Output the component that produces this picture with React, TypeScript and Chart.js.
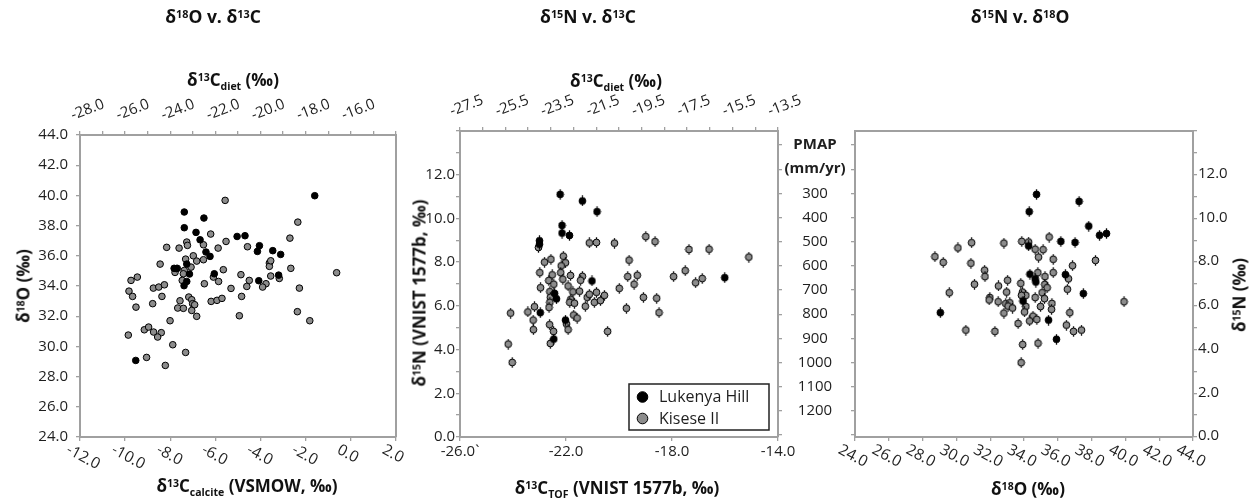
import React, { useEffect, useRef } from "react";
import { Chart, registerables } from "chart.js";
Chart.register(...registerables);

const W = 1252;
const H = 502;
const AXIS = "#a0a0a0";
const TXT = "#1e1e1e";
const GRAY = "#8c8c8c";
const BLACK = "#000000";
const FONT = "'Open Sans', 'Noto Sans', sans-serif";
const TICK_FONT = `15px ${FONT}`;
const BOLD_FONT = `bold 15px ${FONT}`;

// ---------- data: panel 1 (d13C calcite vs d18O) ----------
const p1Lukenya: [number, number][] = [
  [-7.38, 38.9], [-7.38, 37.86], [-6.51, 38.5], [-6.86, 37.55], [-6.68, 37.06], [-6.42, 36.25],
  [-6.24, 35.96], [-7.83, 35.17], [-7.72, 35.15], [-7.27, 35.45], [-7.15, 34.79], [-7.27, 34.3],
  [-7.39, 34.02], [-6.05, 34.81], [-5.04, 37.28], [-4.69, 37.33], [-4.05, 36.67], [-4.14, 36.29],
  [-3.46, 36.34], [-3.11, 36.09], [-4.08, 34.35], [-3.2, 34.72], [-1.6, 39.98], [-9.53, 29.07],
];
const p1Kisese: [number, number][] = [
  [-5.57, 39.67], [-2.35, 38.23], [-2.7, 37.17], [-6.21, 37.44], [-7.27, 36.91], [-7.24, 36.69],
  [-6.53, 36.73], [-5.53, 36.95], [-8.16, 36.56], [-7.61, 36.51], [-5.88, 36.51], [-4.58, 36.6],
  [-8.45, 35.45], [-6.98, 36.0], [-6.53, 35.74], [-7.32, 35.78], [-6.83, 35.65], [-7.08, 35.25],
  [-7.69, 35.17], [-7.79, 34.9], [-7.38, 35.03], [-7.42, 34.81], [-7.47, 34.37], [-6.09, 34.59],
  [-5.65, 35.08], [-3.61, 35.52], [-3.61, 35.3], [-3.55, 35.67], [-2.66, 35.17], [-0.63, 34.88],
  [-3.55, 34.66], [-3.17, 34.5], [-4.87, 34.75], [-4.5, 34.37], [-5.86, 34.3], [-6.49, 34.15],
  [-4.61, 33.97], [-3.76, 34.15], [-3.91, 33.93], [-5.31, 33.84], [-2.28, 33.86], [-4.84, 33.31],
  [-9.74, 34.37], [-9.46, 34.59], [-9.83, 33.66], [-9.67, 33.31], [-9.52, 32.6], [-8.75, 33.86],
  [-8.51, 33.93], [-8.26, 34.08], [-8.37, 33.31], [-8.78, 32.83], [-7.57, 33.02], [-7.18, 33.27],
  [-7.05, 33.09], [-7.01, 32.83], [-6.92, 32.76], [-7.67, 32.54], [-7.42, 32.52], [-7.05, 32.38],
  [-6.83, 31.99], [-6.19, 32.98], [-5.93, 33.05], [-5.71, 33.18], [-4.94, 32.03], [-2.37, 32.3],
  [-1.82, 31.7], [-8.01, 31.7], [-9.86, 30.75], [-9.15, 31.1], [-8.96, 31.28], [-8.74, 30.95],
  [-8.4, 30.91], [-8.56, 30.62], [-7.89, 30.11], [-7.32, 29.6], [-9.05, 29.27], [-8.22, 28.74],
];

// ---------- data: panel 2 (d13C TOF vs d15N) ----------
const p2Lukenya: [number, number][] = [
  [-22.22, 11.1], [-21.38, 10.8], [-20.83, 10.31], [-22.15, 9.68], [-22.15, 9.33], [-21.87, 9.22],
  [-23.0, 8.98], [-23.0, 8.82], [-21.02, 7.14], [-22.43, 6.57], [-22.36, 6.32], [-22.97, 5.69],
  [-22.02, 5.35], [-22.46, 4.48], [-16.01, 7.29],
];
const p2Kisese: [number, number][] = [
  [-23.04, 8.67], [-21.12, 8.88], [-20.85, 8.9], [-20.17, 8.87], [-18.99, 9.17], [-18.64, 8.94],
  [-17.36, 8.58], [-16.6, 8.59], [-15.1, 8.23], [-22.81, 8.0], [-22.57, 8.13], [-22.1, 8.27],
  [-22.02, 7.97], [-22.18, 7.83], [-22.99, 7.52], [-22.2, 7.52], [-22.52, 7.42], [-21.83, 7.39],
  [-21.38, 7.35], [-21.45, 7.17], [-22.12, 7.22], [-22.65, 7.16], [-22.46, 6.99], [-22.96, 6.83],
  [-21.92, 6.91], [-22.61, 6.65], [-21.74, 6.64], [-21.49, 6.67], [-22.59, 6.39], [-22.61, 6.16],
  [-22.64, 5.93], [-21.82, 6.3], [-21.86, 6.16], [-21.68, 6.12], [-21.2, 6.39], [-21.12, 6.53],
  [-20.93, 6.16], [-20.85, 6.62], [-20.7, 6.24], [-20.55, 6.48], [-21.27, 5.98], [-19.99, 6.8],
  [-19.72, 5.89], [-19.67, 7.34], [-19.62, 8.09], [-19.43, 6.99], [-19.31, 7.4], [-19.08, 6.39],
  [-18.58, 6.35], [-18.49, 5.69], [-17.94, 7.34], [-17.5, 7.61], [-17.11, 7.06], [-16.86, 7.25],
  [-23.19, 5.96], [-23.44, 5.72], [-24.09, 5.67], [-23.24, 5.35], [-23.23, 4.91], [-22.62, 5.14],
  [-22.47, 4.83], [-21.71, 5.58], [-21.58, 5.44], [-21.98, 5.17], [-21.92, 4.91], [-20.43, 4.83],
  [-24.18, 4.25], [-22.59, 4.28], [-24.03, 3.41],
];

// ---------- data: panel 3 (d18O vs d15N) ----------
const p3Lukenya: [number, number][] = [
  [34.74, 11.1], [37.26, 10.78], [34.31, 10.31], [37.83, 9.65], [38.47, 9.23], [38.88, 9.31],
  [36.18, 8.95], [37.02, 8.9], [34.27, 8.74], [34.35, 7.45], [34.66, 7.24], [34.7, 7.09],
  [36.45, 7.43], [37.51, 6.56], [33.94, 6.22], [29.05, 5.69], [35.45, 5.35], [35.92, 4.47],
];
const p3Kisese: [number, number][] = [
  [28.73, 8.25], [29.22, 7.99], [30.09, 8.65], [30.9, 8.89], [30.86, 7.95], [31.67, 7.63],
  [32.81, 8.87], [33.87, 8.95], [34.27, 8.92], [35.49, 9.15], [34.66, 8.59], [35.13, 8.57],
  [34.86, 8.23], [35.73, 8.13], [36.87, 7.84], [38.23, 8.08], [31.69, 7.34], [31.07, 6.99],
  [29.58, 6.6], [34.82, 7.52], [35.24, 7.34], [35.73, 7.52], [36.63, 7.24], [36.57, 6.76],
  [33.81, 7.03], [33.03, 7.17], [32.49, 6.91], [32.97, 6.63], [33.91, 6.63], [34.11, 6.48],
  [33.85, 6.48], [34.66, 6.38], [35.23, 6.98], [35.37, 6.83], [35.07, 6.6], [35.21, 6.33],
  [31.98, 6.38], [31.94, 6.27], [32.47, 6.19], [32.92, 6.1], [33.16, 6.14], [33.06, 5.99],
  [33.32, 5.9], [32.81, 5.67], [34.11, 5.97], [34.03, 5.72], [34.98, 5.97], [35.65, 6.11],
  [35.63, 5.84], [36.71, 5.69], [34.53, 5.53], [34.33, 5.31], [34.76, 5.38], [33.65, 5.19],
  [36.51, 5.12], [36.93, 4.83], [37.4, 4.89], [30.56, 4.89], [32.28, 4.83], [33.92, 4.23],
  [34.83, 4.29], [33.83, 3.4], [39.92, 6.19],
];

const seriesNames = ["Lukenya Hill", "Kisese II"];

// ---------- ticks ----------
const p1XTicks = [-12, -10, -8, -6, -4, -2, 0, 2];
const p1YTicks = [24, 26, 28, 30, 32, 34, 36, 38, 40, 42, 44];
const p1TopTicks = [-28, -27, -26, -25, -24, -23, -22, -21, -20, -19, -18, -17, -16, -15, -14];
const p1TopLabels = [-28, -26, -24, -22, -20, -18, -16];

const p2XTicks = [-26, -22, -18, -14];
const p2XLabels = ["-26.0`", "-22.0", "-18.0", "-14.0"];
const p2YTicks = [0, 1, 2, 3, 4, 5, 6, 7, 8, 9, 10, 11, 12, 13, 14];
const p2YLabels = [0, 2, 4, 6, 8, 10, 12];
const p2TopTicks = [-27.5, -26.5, -25.5, -24.5, -23.5, -22.5, -21.5, -20.5, -19.5, -18.5, -17.5, -16.5, -15.5, -14.5, -13.5];
const p2TopLabels = [-27.5, -25.5, -23.5, -21.5, -19.5, -17.5, -15.5, -13.5];

const pmapTicks = [100, 200, 300, 400, 500, 600, 700, 800, 900, 1000, 1100, 1200, 1300];
const pmapLabels = [300, 400, 500, 600, 700, 800, 900, 1000, 1100, 1200];
const pmapHeader = ["PMAP", "(mm/yr)"];
const pmapHeaderAt = [100, 200];

const p3XTicks = [24, 26, 28, 30, 32, 34, 36, 38, 40, 42, 44];
const p3YTicks = [0, 1, 2, 3, 4, 5, 6, 7, 8, 9, 10, 11, 12, 13, 14];
const p3YLabels = [0, 2, 4, 6, 8, 10, 12];

// ---------- helpers ----------
type Area = { l: number; t: number; r: number; b: number };

function scale(position: string, min: number, max: number, ticks: number[], drawTicks: boolean, reverse = false) {
  const horiz = position === "top" || position === "bottom";
  return {
    type: "linear",
    position,
    min,
    max,
    reverse,
    display: true,
    ticks: { display: false },
    grid: { display: true, drawOnChartArea: false, drawTicks, tickLength: 4, color: AXIS, lineWidth: 1.3 },
    border: { display: true, color: AXIS, width: 2 },
    afterBuildTicks: (s: any) => {
      s.ticks = ticks.map((value) => ({ value }));
    },
    afterFit: (s: any) => {
      if (horiz) s.height = 0;
      else s.width = 0;
    },
  };
}

function txt(
  ctx: CanvasRenderingContext2D,
  s: string,
  x: number,
  y: number,
  align: CanvasTextAlign,
  baseline: CanvasTextBaseline,
  rot = 0,
  font = TICK_FONT
) {
  ctx.save();
  ctx.translate(x, y);
  if (rot) ctx.rotate((rot * Math.PI) / 180);
  ctx.font = font;
  ctx.fillStyle = TXT;
  ctx.textAlign = align;
  ctx.textBaseline = baseline;
  ctx.fillText(s, 0, 0);
  ctx.restore();
}

function makeMarker(fill: string) {
  const c = document.createElement("canvas");
  c.width = 9;
  c.height = 11;
  const g = c.getContext("2d")!;
  g.strokeStyle = "#000";
  g.lineWidth = 1.3;
  g.beginPath();
  g.moveTo(4.5, 0.3);
  g.lineTo(4.5, 10.7);
  g.stroke();
  g.beginPath();
  g.arc(4.5, 5.5, 3.4, 0, Math.PI * 2);
  g.fillStyle = fill;
  g.fill();
  g.lineWidth = 1;
  g.stroke();
  return c;
}

function baseOptions(area: Area, scales: any, draw: (chart: any, ctx: CanvasRenderingContext2D) => void) {
  return {
    options: {
      responsive: false,
      animation: false,
      events: [],
      layout: { autoPadding: false, padding: { left: area.l, top: area.t, right: W - area.r, bottom: H - area.b } },
      plugins: { legend: { display: false }, tooltip: { enabled: false }, title: { display: false } },
      scales,
    },
    plugins: [
      {
        id: "customText",
        afterDraw(chart: any) {
          const ctx = chart.ctx as CanvasRenderingContext2D;
          ctx.save();
          draw(chart, ctx);
          ctx.restore();
        },
      },
    ],
  };
}

const toXY = (arr: [number, number][]) => arr.map(([x, y]) => ({ x, y }));
const TOP_ROT = -21;

function panel1Config() {
  const area = { l: 80, t: 135, r: 396, b: 437 };
  const scales = {
    x: scale("bottom", -12, 2, p1XTicks, true),
    xt: scale("top", -28, -14, p1TopTicks, true),
    y: scale("left", 24, 44, p1YTicks, true),
    yr: scale("right", 24, 44, [24, 44], false),
  };
  const base = baseOptions(area, scales, (chart, ctx) => {
    const { left, top, bottom } = chart.chartArea;
    const sx = chart.scales.x, sxt = chart.scales.xt, sy = chart.scales.y;
    p1YTicks.forEach((v) => txt(ctx, v.toFixed(1), left - 12, sy.getPixelForValue(v), "right", "middle"));
    p1XTicks.forEach((v) => txt(ctx, v.toFixed(1), sx.getPixelForValue(v) - 9, bottom + 5, "left", "top", 28, `15.5px ${FONT}`));
    p1TopLabels.forEach((v) => txt(ctx, v.toFixed(1), sxt.getPixelForValue(v) - 7, top - 15, "left", "alphabetic", TOP_ROT));
  });
  return {
    type: "scatter",
    data: {
      datasets: [
        { label: seriesNames[0], data: toXY(p1Lukenya), xAxisID: "x", yAxisID: "y", backgroundColor: BLACK, borderColor: "#000", borderWidth: 1, pointRadius: 3.3 },
        { label: seriesNames[1], data: toXY(p1Kisese), xAxisID: "x", yAxisID: "y", backgroundColor: GRAY, borderColor: "#000", borderWidth: 1, pointRadius: 3.3 },
      ],
    },
    ...base,
  };
}

function panel2Config() {
  const area = { l: 460, t: 131, r: 778, b: 437 };
  const scales = {
    x: scale("bottom", -26, -14, p2XTicks, true),
    xt: scale("top", -27.5, -13.5, p2TopTicks, true),
    y: scale("left", 0, 14, p2YTicks, true),
    yp: scale("right", 42, 1308, pmapTicks, true, true),
  };
  const mBlack = makeMarker(BLACK);
  const mGray = makeMarker(GRAY);
  const base = baseOptions(area, scales, (chart, ctx) => {
    const { left, top, bottom } = chart.chartArea;
    const sx = chart.scales.x, sxt = chart.scales.xt, sy = chart.scales.y;
    p2YLabels.forEach((v) => txt(ctx, v.toFixed(1), left - 5, sy.getPixelForValue(v), "right", "middle"));
    p2XTicks.forEach((v, i) => txt(ctx, p2XLabels[i], sx.getPixelForValue(v), bottom + 15, "center", "middle"));
    p2TopLabels.forEach((v) => txt(ctx, v.toFixed(1), sxt.getPixelForValue(v) - 8, top - 15, "left", "alphabetic", TOP_ROT));
    // legend
    const lx = 629, ly = 384, lw = 140, lh = 46;
    ctx.fillStyle = "#fff";
    ctx.fillRect(lx, ly, lw, lh);
    ctx.strokeStyle = "#222";
    ctx.lineWidth = 1.5;
    ctx.strokeRect(lx, ly, lw, lh);
    const colors = [BLACK, GRAY];
    seriesNames.forEach((name, i) => {
      const cy = ly + 13 + i * 21.5;
      ctx.beginPath();
      ctx.arc(lx + 13.5, cy, 5.3, 0, Math.PI * 2);
      ctx.fillStyle = colors[i];
      ctx.fill();
      ctx.lineWidth = 1;
      ctx.strokeStyle = "#000";
      ctx.stroke();
      txt(ctx, name, lx + 30, cy + 0.5, "left", "middle", 0, `16px ${FONT}`);
    });
  });
  return {
    type: "scatter",
    data: {
      datasets: [
        { label: seriesNames[0], data: toXY(p2Lukenya), xAxisID: "x", yAxisID: "y", pointStyle: mBlack, pointRadius: 4 },
        { label: seriesNames[1], data: toXY(p2Kisese), xAxisID: "x", yAxisID: "y", pointStyle: mGray, pointRadius: 4 },
      ],
    },
    ...base,
  };
}

function panel3Config() {
  const area = { l: 855, t: 131, r: 1193, b: 437 };
  const scales = {
    x: scale("bottom", 24, 44, p3XTicks, true),
    xt: scale("top", 24, 44, [24, 44], false),
    yp: scale("left", 42, 1308, pmapTicks, true, true),
    y: scale("right", 0, 14, p3YTicks, true),
  };
  const mBlack = makeMarker(BLACK);
  const mGray = makeMarker(GRAY);
  const base = baseOptions(area, scales, (chart, ctx) => {
    const { right, bottom } = chart.chartArea;
    const sx = chart.scales.x, sy = chart.scales.y, sp = chart.scales.yp;
    p3YLabels.forEach((v) => txt(ctx, v.toFixed(1), right + 5, sy.getPixelForValue(v) - 1, "left", "middle"));
    p3XTicks.forEach((v) => txt(ctx, v.toFixed(1), sx.getPixelForValue(v) - 12, bottom + 5, "left", "top", 28, `15.5px ${FONT}`));
    pmapLabels.forEach((v) => txt(ctx, String(v), 815, sp.getPixelForValue(v), "center", "middle"));
    pmapHeader.forEach((s, i) => txt(ctx, s, 815, sp.getPixelForValue(pmapHeaderAt[i]), "center", "middle", 0, BOLD_FONT));
  });
  return {
    type: "scatter",
    data: {
      datasets: [
        { label: seriesNames[0], data: toXY(p3Lukenya), xAxisID: "x", yAxisID: "y", pointStyle: mBlack, pointRadius: 4 },
        { label: seriesNames[1], data: toXY(p3Kisese), xAxisID: "x", yAxisID: "y", pointStyle: mGray, pointRadius: 4 },
      ],
    },
    ...base,
  };
}

function Panel({ make }: { make: () => any }) {
  const ref = useRef<HTMLCanvasElement | null>(null);
  useEffect(() => {
    if (!ref.current) return;
    const chart = new Chart(ref.current, make());
    return () => chart.destroy();
  }, [make]);
  return (
    <canvas
      ref={ref}
      width={W}
      height={H}
      style={{ position: "absolute", left: 0, top: 0, width: W, height: H }}
    />
  );
}

const Sup = ({ children }: { children: any }) => (
  <span style={{ fontSize: "0.62em", position: "relative", top: "-0.5em" }}>{children}</span>
);
const Sub = ({ children }: { children: any }) => (
  <span style={{ fontSize: "0.62em", position: "relative", top: "0.35em" }}>{children}</span>
);

function Label({ x, y, rot = 0, size = 16, children }: { x: number; y: number; rot?: number; size?: number; children: any }) {
  return (
    <div
      style={{
        position: "absolute",
        left: x,
        top: y,
        transform: `translate(-50%, -50%) rotate(${rot}deg)`,
        whiteSpace: "nowrap",
        fontWeight: 700,
        fontSize: size,
        lineHeight: 1,
        color: "#111",
        fontFamily: FONT,
      }}
    >
      {children}
    </div>
  );
}

export default function App() {
  return (
    <div style={{ position: "absolute", left: 0, top: 0, width: W, height: H, background: "#fff", overflow: "hidden" }}>
      <Panel make={panel1Config} />
      <Panel make={panel2Config} />
      <Panel make={panel3Config} />

      <Label x={213} y={17} size={17.5}>δ<Sup>18</Sup>O v. δ<Sup>13</Sup>C</Label>
      <Label x={588} y={17} size={17.5}>δ<Sup>15</Sup>N v. δ<Sup>13</Sup>C</Label>
      <Label x={1020} y={17} size={17.5}>δ<Sup>15</Sup>N v. δ<Sup>18</Sup>O</Label>

      <Label x={233} y={79} size={17}>δ<Sup>13</Sup>C<Sub>diet</Sub> (‰)</Label>
      <Label x={23} y={286} rot={-90} size={17}>δ<Sup>18</Sup>O (‰)</Label>
      <Label x={247} y={485} size={17}>δ<Sup>13</Sup>C<Sub>calcite</Sub> (VSMOW, ‰)</Label>

      <Label x={616} y={80} size={17}>δ<Sup>13</Sup>C<Sub>diet</Sub> (‰)</Label>
      <Label x={419} y={293} rot={-90} size={17}>δ<Sup>15</Sup>N (VNIST 1577b, ‰)</Label>
      <Label x={617} y={487} size={17}>δ<Sup>13</Sup>C<Sub>TOF</Sub> (VNIST 1577b, ‰)</Label>

      <Label x={1028} y={488} size={17}>δ<Sup>18</Sup>O (‰)</Label>
      <Label x={1239} y={295} rot={-90} size={17}>δ<Sup>15</Sup>N (‰)</Label>
    </div>
  );
}
